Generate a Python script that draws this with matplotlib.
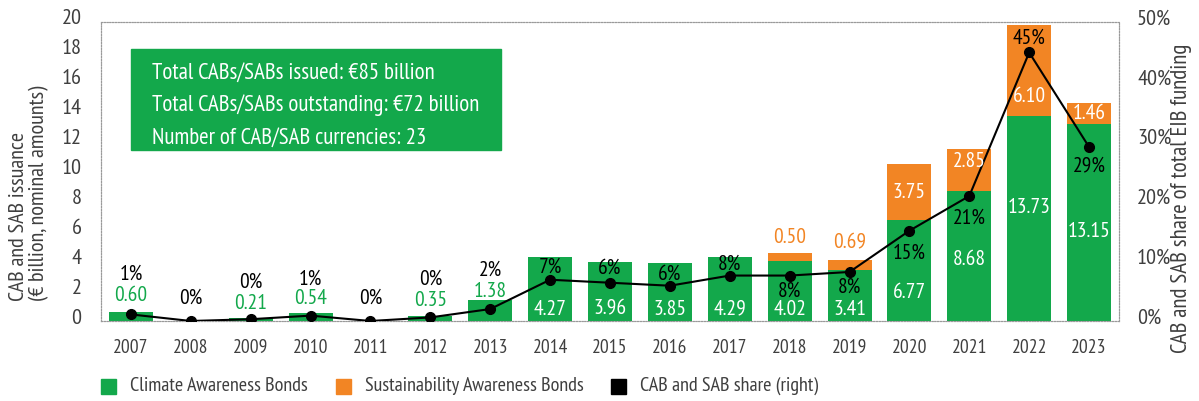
import matplotlib
matplotlib.use("Agg")
import matplotlib.pyplot as plt
from matplotlib.patches import Rectangle
from matplotlib.transforms import ScaledTranslation

plt.rcParams['font.family'] = ['PT Sans Narrow', 'DejaVu Sans']

years = ['2007', '2008', '2009', '2010', '2011', '2012', '2013', '2014', '2015',
         '2016', '2017', '2018', '2019', '2020', '2021', '2022', '2023']
cab = [0.60, 0, 0.21, 0.54, 0, 0.35, 1.38, 4.27, 3.96, 3.85, 4.29, 4.02, 3.41,
       6.77, 8.68, 13.73, 13.15]
sab = [0, 0, 0, 0, 0, 0, 0, 0, 0, 0, 0, 0.50, 0.69, 3.75, 2.85, 6.10, 1.46]
share_labels = ['1%', '0%', '0%', '1%', '0%', '0%', '2%', '7%', '6%', '6%', '8%',
                '8%', '8%', '15%', '21%', '45%', '29%']
share = [1.1, 0, 0.3, 0.9, 0, 0.6, 2.0, 6.9, 6.4, 5.9, 7.6, 7.6, 8.2, 15.1,
         20.9, 44.9, 29.1]

# label placement (left axis units)
cab_label_y = [1.7, None, 1.2, 1.5, None, 1.4, 2.0, 0.8, 0.8, 0.8, 0.8, 0.8, 0.8,
               1.9, 4.1, 7.6, 6.0]
sab_label_y = [None] * 11 + [5.6, 5.2, 8.6, 10.7, 15.0, 13.85]
pct_label_y = [3.1, 1.5, 2.6, 2.8, 1.5, 2.8, 3.4, 3.6, 3.5, 3.1, 3.8, 2.0, 2.25,
               4.5, 6.9, 18.9, 10.4]

GREEN = '#13a84b'
ORANGE = '#f28524'
GREY = '#3f3f3f'
W, H = 1199, 401

fig = plt.figure(figsize=(W / 100, H / 100), dpi=100)
ax = fig.add_axes([101 / W, 80 / H, 1018 / W, 299 / H])
ax2 = ax.twinx()

x = list(range(len(years)))
ax.bar(x, cab, width=0.735, color=GREEN, zorder=2)
ax.bar(x, sab, width=0.735, bottom=cab, color=ORANGE, zorder=2)

ax.set_xlim(-0.5, 16.5)
ax.set_ylim(0, 20)
ax.set_yticks(range(0, 21, 2))
ax.set_xticks(x)
ax.set_xticklabels(years)
ax2.set_ylim(0, 50)
ax2.set_yticks(range(0, 51, 10))
ax2.set_yticklabels([f'{v}%' for v in range(0, 51, 10)])

for a in (ax, ax2):
    for s in a.spines.values():
        s.set_linestyle((0, (1, 1.5)))
        s.set_color('#9a9a9a')
        s.set_linewidth(0.8)
    a.tick_params(length=0, colors=GREY, labelsize=16)
ax.tick_params(axis='x', labelsize=14, pad=13)
ax.tick_params(axis='y', pad=14)
ax2.tick_params(axis='y', pad=13)

offset = ScaledTranslation(0, 5 / 100, fig.dpi_scale_trans)
for lab in ax.get_yticklabels() + ax2.get_yticklabels():
    lab.set_transform(lab.get_transform() + offset)

fig.text(29 / W, 1 - 193 / H, 'CAB and SAB issuance\n(€ billion, nominal amounts)',
         rotation=90, ha='center', va='center', multialignment='left',
         fontsize=16, color=GREY, linespacing=1.1)
fig.text(1182 / W, 1 - 198 / H, 'CAB and SAB share of total EIB funding',
         rotation=90, ha='center', va='center', fontsize=16.5, color=GREY)

# share line is drawn on the left axes so it sits above the bars
ax.set_zorder(ax2.get_zorder() + 1)
ax.patch.set_visible(False)
share_scaled = [v * 20 / 50 for v in share]
ax.plot(x, share_scaled, color='black', lw=1.5, marker='o', ms=7, zorder=3)

for i in x:
    if cab_label_y[i] is not None:
        inside = cab[i] > 3
        ax.text(i, cab_label_y[i], f'{cab[i]:.2f}', ha='center', va='center',
                fontsize=15.5, color='white' if inside else GREEN, zorder=4)
    if sab_label_y[i] is not None:
        inside = sab[i] > 1
        ax.text(i, sab_label_y[i], f'{sab[i]:.2f}', ha='center', va='center',
                fontsize=15.5, color='white' if inside else ORANGE, zorder=4)
    ax.text(i, pct_label_y[i], share_labels[i], ha='center', va='center',
            fontsize=15.5, color='black', zorder=4)

# info box
fig.patches.append(Rectangle((131 / W, 1 - 150 / H), 370 / W, 101 / H,
                             transform=fig.transFigure, color=GREEN, zorder=5))
info = ['Total CABs/SABs issued: €85 billion',
        'Total CABs/SABs outstanding: €72 billion',
        'Number of CAB/SAB currencies: 23']
for k, line in enumerate(info):
    fig.text(152 / W, 1 - (73 + 32.5 * k) / H, line, color='white',
             fontsize=16.5, va='center', ha='left', zorder=6)

# legend
legend_items = [('Climate Awareness Bonds', GREEN, 101),
                ('Sustainability Awareness Bonds', ORANGE, 336),
                ('CAB and SAB share (right)', 'black', 611)]
for name, col, px in legend_items:
    fig.patches.append(Rectangle((px / W, 1 - 393.5 / H), 15 / W, 15 / H,
                                 transform=fig.transFigure, color=col))
    fig.text((px + 29) / W, 1 - 386 / H, name, color=GREY, fontsize=14.5,
             va='center', ha='left')

fig.savefig('out.png', dpi=100)
